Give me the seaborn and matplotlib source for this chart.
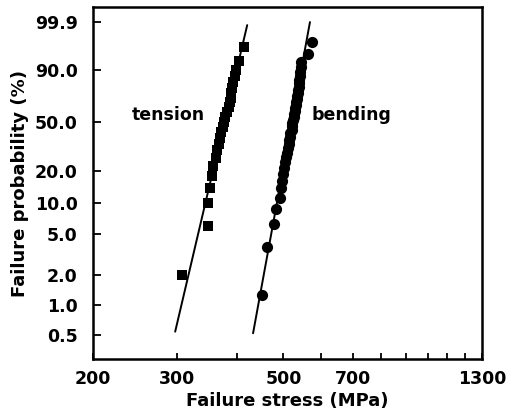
#!/usr/bin/env python3

import numpy as np
import matplotlib
matplotlib.use('Agg')
import matplotlib.pyplot as plt
import seaborn as sns

# --- Data ---
# tension specimens (squares), failure probability in %
tension_prob = [2, 6, 10, 14, 18, 22, 26, 30, 34, 38, 42, 46, 50,
                54, 58, 62, 66, 70, 74, 78, 82, 86, 90, 94, 98]
tension_stress = [307, 348, 348, 351, 355, 357, 361, 364, 366, 368, 371, 373, 375,
                  378, 381, 384, 386, 388, 389, 391, 393, 396, 398, 403, 413]

# bending specimens (circles)
bending_prob = [1.25, 3.75, 6.25, 8.75, 11.25, 13.75, 16.25, 18.75, 21.25, 23.75,
                26.25, 28.75, 31.25, 33.75, 36.25, 38.75, 41.25, 43.75, 46.25, 48.75,
                51.25, 53.75, 56.25, 58.75, 61.25, 63.75, 66.25, 68.75, 71.25, 73.75,
                76.25, 78.75, 81.25, 83.75, 86.25, 88.75, 91.25, 93.75, 96.25, 98.75]
bending_stress = [451, 462, 478, 483, 491, 493, 496, 499, 502, 503,
                  506, 509, 510, 513, 514, 516, 517, 520, 521, 522,
                  524, 525, 526, 528, 529, 530, 531, 533, 534, 535,
                  536, 538, 539, 540, 541, 542, 543, 544, 563, 573]

# fitted Weibull lines (end points)
tension_fit_stress = [297, 420]
tension_fit_prob = [0.54, 99.84]
bending_fit_stress = [432, 568]
bending_fit_prob = [0.52, 99.9]

y_ticks = [0.5, 1.0, 2.0, 5.0, 10.0, 20.0, 50.0, 90.0, 99.9]
y_ticklabels = ['0.5', '1.0', '2.0', '5.0', '10.0', '20.0', '50.0', '90.0', '99.9']
x_ticks = [200, 300, 400, 500, 600, 700, 800, 900, 1000, 1100, 1200, 1300]
x_ticklabels = ['200', '300', '', '500', '', '700', '', '', '', '', '', '1300']


def weibull_fwd(p):
    p = np.clip(np.asarray(p, dtype=float), 1e-6, 100 - 1e-6)
    return np.log(-np.log(1 - p / 100))


def weibull_inv(y):
    return 100 * (1 - np.exp(-np.exp(y)))


sns.set_style('ticks')
plt.rcParams['font.family'] = ['DejaVu Sans']
plt.rcParams['font.weight'] = 'bold'
plt.rcParams['text.color'] = 'black'
plt.rcParams['axes.labelcolor'] = 'black'

fig, ax = plt.subplots(figsize=(5.08, 4.15), dpi=100)
fig.subplots_adjust(left=0.183, right=0.949, bottom=0.135, top=0.983)

ax.set_xscale('log')
ax.set_yscale('function', functions=(weibull_fwd, weibull_inv))

sns.lineplot(x=tension_fit_stress, y=tension_fit_prob, color='black', lw=1.4,
             sort=False, estimator=None, ax=ax)
sns.lineplot(x=bending_fit_stress, y=bending_fit_prob, color='black', lw=1.4,
             sort=False, estimator=None, ax=ax)
sns.scatterplot(x=tension_stress, y=tension_prob, marker='s', color='black',
                s=55, linewidth=0, ax=ax, zorder=3)
sns.scatterplot(x=bending_stress, y=bending_prob, marker='o', color='black',
                s=65, linewidth=0, ax=ax, zorder=3)

ax.set_xlim(200, 1300)
ax.set_ylim(0.2875, 99.9943)

ax.xaxis.set_major_locator(matplotlib.ticker.FixedLocator(x_ticks))
ax.xaxis.set_minor_locator(matplotlib.ticker.NullLocator())
ax.set_xticklabels(x_ticklabels)
ax.set_yticks(y_ticks)
ax.set_yticklabels(y_ticklabels)
ax.yaxis.set_minor_locator(matplotlib.ticker.NullLocator())

ax.tick_params(axis='both', direction='in', width=1.3, labelsize=12.5,
               colors='black', labelcolor='black')
ax.tick_params(axis='x', length=4, pad=8)
ax.tick_params(axis='y', length=6, pad=11)
for lab in ax.get_xticklabels() + ax.get_yticklabels():
    lab.set_fontweight('bold')

for side in ['top', 'right', 'bottom', 'left']:
    ax.spines[side].set_visible(True)
    ax.spines[side].set_linewidth(1.8)
    ax.spines[side].set_color('black')

ax.set_xlabel('Failure stress (MPa)', fontsize=13, fontweight='bold',
              labelpad=3, color='black')
ax.set_ylabel('Failure probability (%)', fontsize=13, fontweight='bold',
              labelpad=4, color='black')

ax.text(0.193, 0.693, 'tension', transform=ax.transAxes, fontsize=12.5,
        fontweight='bold', ha='center', va='center', color='black')
ax.text(0.663, 0.693, 'bending', transform=ax.transAxes, fontsize=12.5,
        fontweight='bold', ha='center', va='center', color='black')

fig.savefig('out.png', dpi=100)
